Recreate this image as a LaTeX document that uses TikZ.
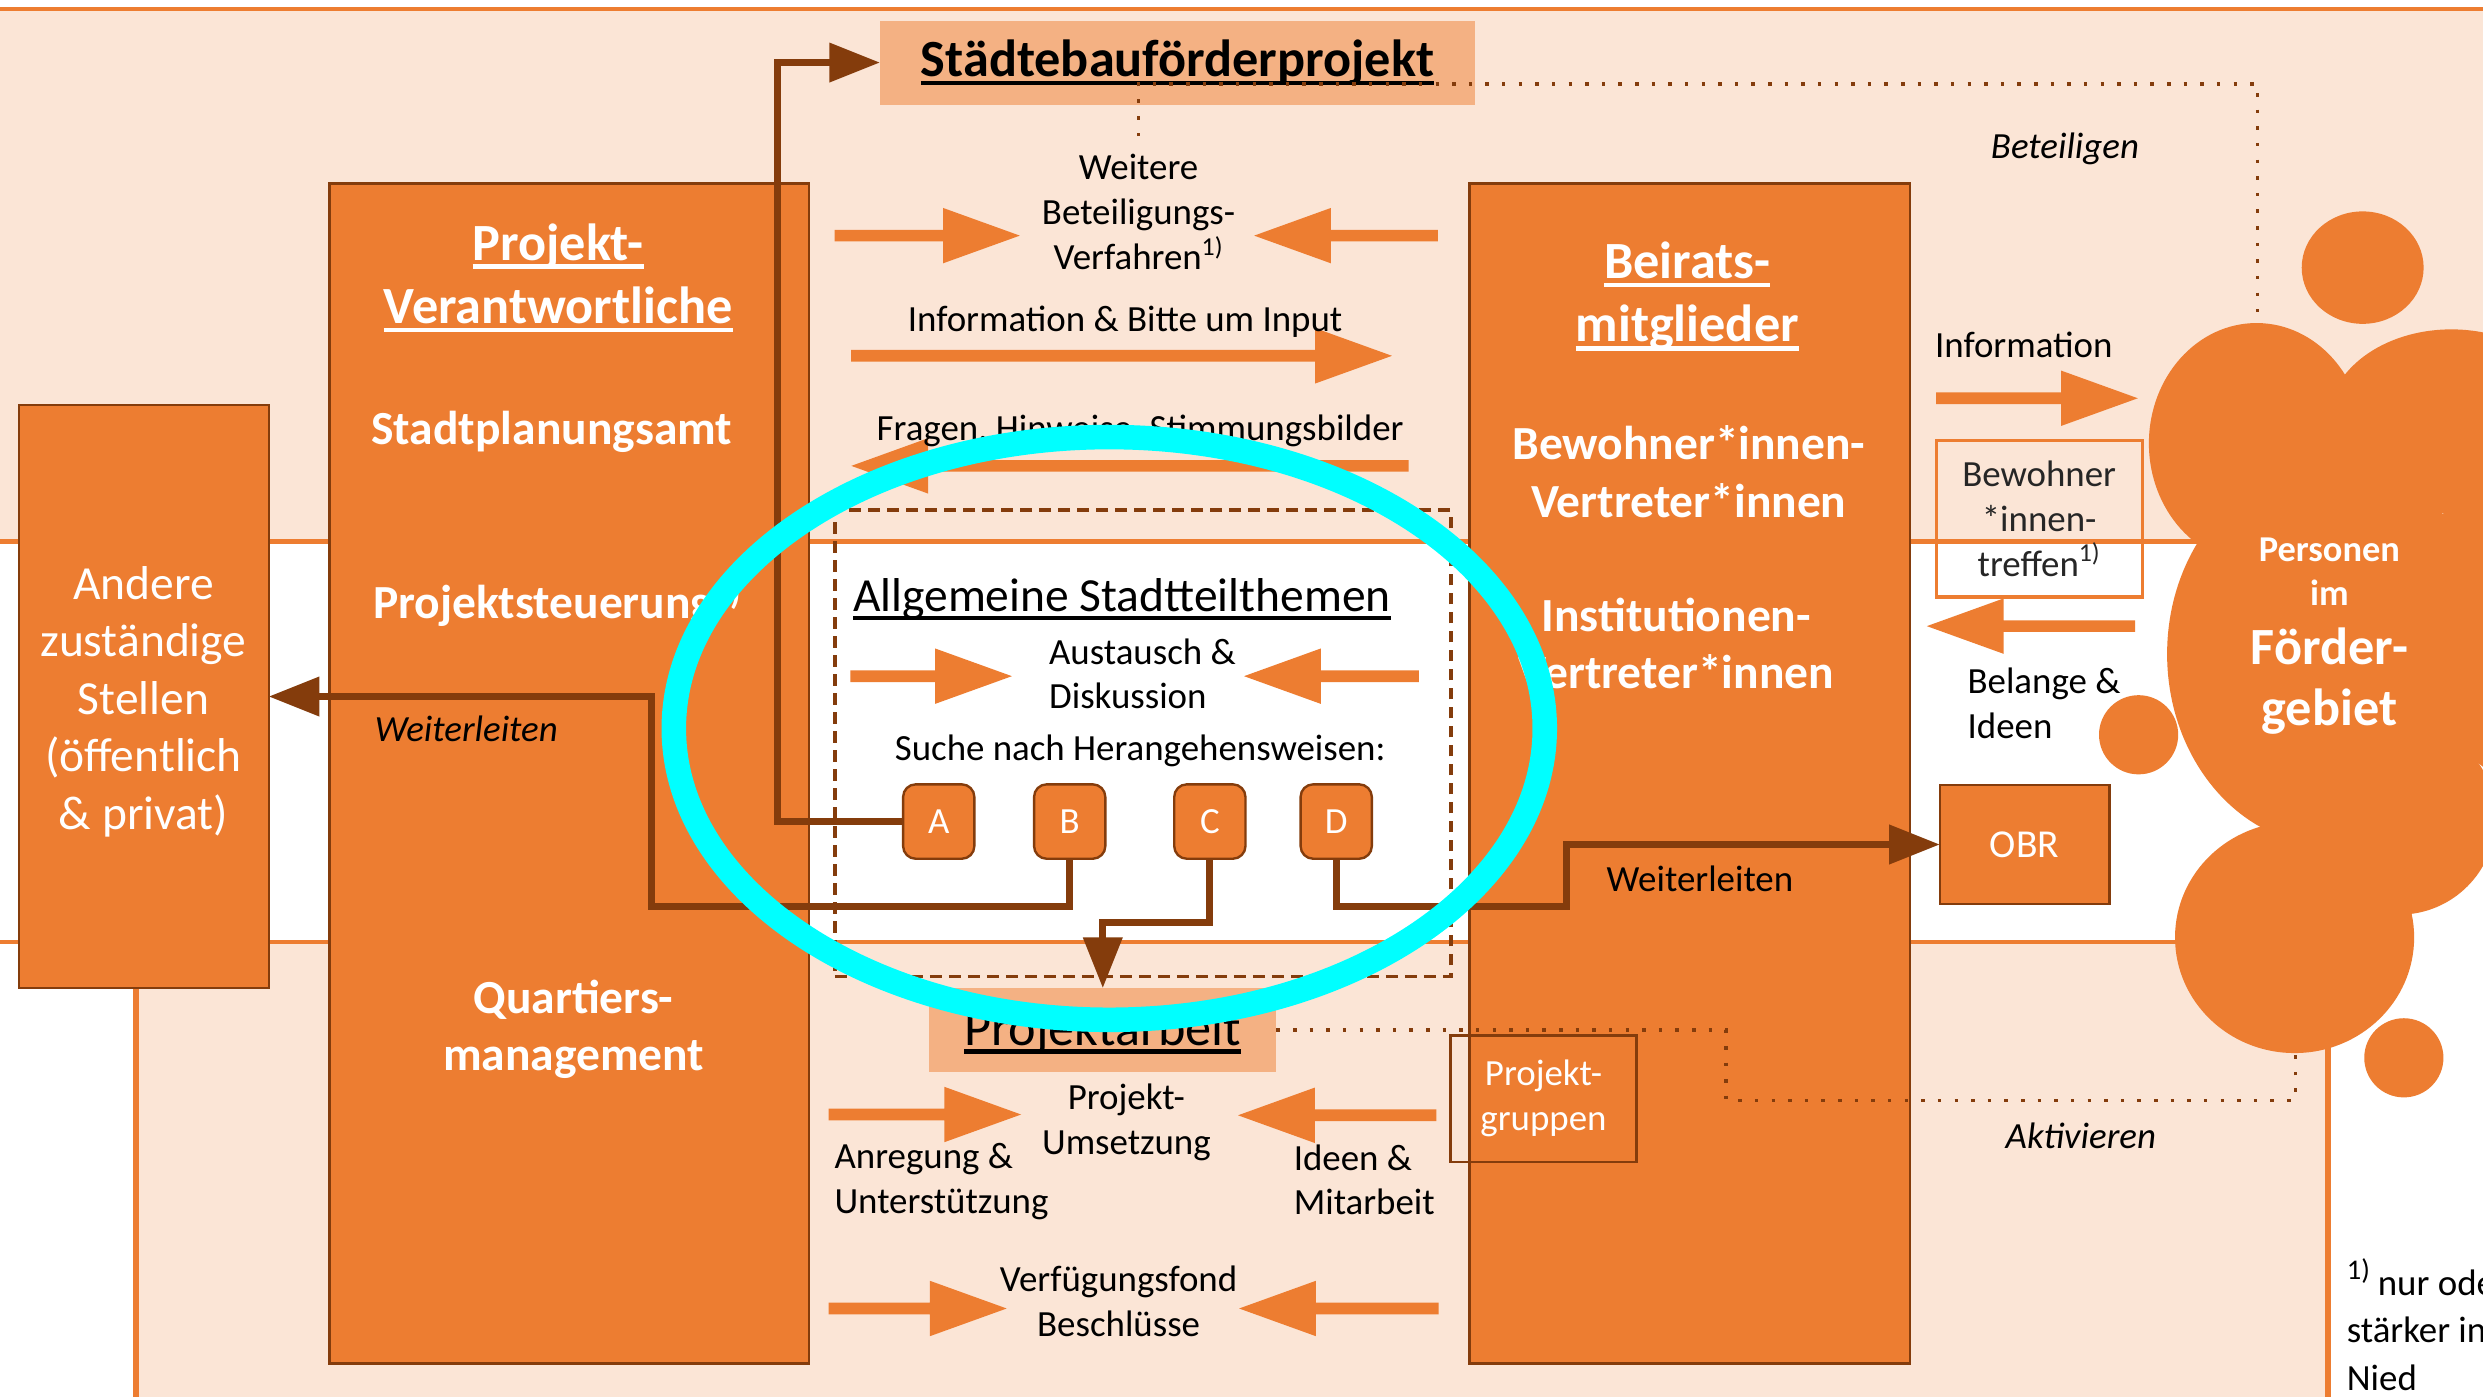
\documentclass[tikz,border=0pt]{standalone}
\usepackage{fontspec}
\setmainfont{Carlito}
\usetikzlibrary{arrows.meta}
\definecolor{peach}{HTML}{FBE5D6}
\definecolor{orng}{HTML}{ED7D31}
\definecolor{lorng}{HTML}{F4B183}
\definecolor{dbrown}{HTML}{843C0C}
\definecolor{cyanline}{RGB}{0,255,255}
\newcommand\fsbody{\fontsize{23.3pt}{28.3pt}\selectfont}
\newcommand\fsmid{\fontsize{30pt}{36.3pt}\selectfont}
\newcommand\fsbig{\fontsize{33pt}{40pt}\selectfont}
\newcommand\fssmb{\fontsize{23pt}{27.7pt}\selectfont}
\newcommand\myul[1]{\setbox0\hbox{#1}\rlap{\rule[-0.17em]{\wd0}{0.09em}}\box0}
\newcommand\blkR[3]{\fill[orng] (#1,#3-3.7) -- (#2-48.5,#3-3.7) -- (#2-48.5,#3-17.5) -- (#2,#3) -- (#2-48.5,#3+17.5) -- (#2-48.5,#3+3.7) -- (#1,#3+3.7) -- cycle;}
\newcommand\blkL[3]{\fill[orng] (#2,#3-3.7) -- (#1+48.5,#3-3.7) -- (#1+48.5,#3-17.5) -- (#1,#3) -- (#1+48.5,#3+17.5) -- (#1+48.5,#3+3.7) -- (#2,#3+3.7) -- cycle;}
\tikzset{
  txtbase/.style={inner sep=0pt, outer sep=0pt, align=center},
  body/.style={txtbase, font=\fsbody},
  bodyit/.style={txtbase, font=\fsbody\itshape},
  wmid/.style={txtbase, font=\fsmid, text=white},
  wbold/.style={txtbase, font=\fsmid\bfseries, text=white},
  wtitle/.style={txtbase, font=\fsbig\bfseries, text=white},
  bigbox/.style={draw=dbrown, line width=1.5pt, fill=orng, inner sep=0pt, outer sep=0pt},
  letterbox/.style={draw=dbrown, line width=1.5pt, fill=orng, rounded corners=8pt,
    minimum width=45pt, minimum height=47pt, inner sep=0pt, outer sep=0pt, text=white, font=\fsbody},
  conn/.style={draw=dbrown, line width=4.5pt, -{Triangle[length=32pt,width=24pt]}},
  dotconn/.style={draw=dbrown, line width=2.2pt, dash pattern=on 2.2pt off 8.3pt},
  dashbox/.style={draw=dbrown, line width=2.4pt, dash pattern=on 7.5pt off 4.5pt, inner sep=0pt, outer sep=0pt},
  bandline/.style={draw=orng, line width=2.8pt},
  edgeline/.style={draw=orng, line width=3.6pt},
  hlbox/.style={fill=lorng, inner sep=0pt, outer sep=0pt},
}
\begin{document}
\begin{tikzpicture}[x=1pt,y=-1pt]
\useasboundingbox (0,0) rectangle (1568,882);
\clip (0,0) rectangle (1568,882);
% ---------- background bands
\fill[white] (0,0) rectangle (1568,882);
\fill[peach] (0,5.6) rectangle (1568,342);
\fill[peach] (86,595) rectangle (1470,900);
\draw[bandline] (0,5.6) -- (1568,5.6);
\draw[bandline] (0,342) -- (1568,342);
\draw[bandline] (0,595) -- (1470,595);
\draw[edgeline] (86,595) -- (86,900);
\draw[edgeline] (1470,595) -- (1470,900);
% ---------- big boxes
\node[bigbox, anchor=north west, minimum width=157.7pt, minimum height=368.3pt] (andere) at (12,255.7) {};
\node[bigbox, anchor=north west, minimum width=303pt, minimum height=745pt] (pv) at (208,116) {};
\node[bigbox, anchor=north west, minimum width=278pt, minimum height=745pt] (br) at (928,116) {};
\node[hlbox, minimum width=375.8pt, minimum height=53pt, font=\fsbig\bfseries] (sbp) at (743.6,39.5) {\myul{Städtebauförderprojekt}};
\node[hlbox, minimum width=219.3pt, minimum height=53pt, font=\fsbig, text depth=4pt] (pa) at (696.4,650.5) {\myul{Projektarbeit}};
\node[dashbox, anchor=north west, minimum width=389.1pt, minimum height=294.3pt] (dbox) at (527.2,322.3) {};
% ---------- block arrows
\blkR{527}{644}{148.8}
\blkL{792}{908}{148.8}
\blkR{537.5}{879}{224.7}
\blkL{537.6}{889.5}{294.2}
\blkR{537}{639}{427}
\blkL{785.6}{896}{427}
\blkR{1222.6}{1350}{251.5}
\blkL{1216.8}{1348.3}{395.4}
\blkR{523.3}{644.8}{703.8}
\blkL{781.8}{907}{704.3}
\blkR{523.3}{635.7}{826.3}
\blkL{782.5}{908.4}{826.3}
% ---------- texts in the boxes
\node[wmid] (anderetxt) at (90.6,443) {Andere\\zuständige\\Stellen\\(öffentlich\\\& privat)};
\node[wtitle] (pvtitle) at (352.5,175.5) {\myul{Projekt-}\\\myul{Verantwortliche}};
\node[wbold] (spa) at (348.4,273) {Stadtplanungsamt};
\node[wbold, anchor=west] (pst) at (235.6,381) {Projektsteuerung\textsuperscript{1)}};
\node[wbold] (qm) at (362.2,650) {Quartiers-\\management};
\node[wtitle] (brtitle) at (1065.5,187) {\myul{Beirats-}\\\myul{mitglieder}};
\node[wbold] (bwv) at (1066.5,298) {Bewohner*innen-\\Vertreter*innen};
\node[wbold] (inv) at (1058.6,406.5) {Institutionen-\\Vertreter*innen};
% ---------- texts between the boxes
\node[body] (weitere) at (719,134) {Weitere\\Beteiligungs-\\Verfahren\textsuperscript{1)}};
\node[body] (infoinput) at (710.5,203) {Information \& Bitte um Input};
\node[body] (fragen) at (720,272) {Fragen, Hinweise, Stimmungsbilder};
\node[txtbase, font=\fsmid] (allg) at (708.5,378.5) {\myul{Allgemeine Stadtteilthemen}};
\node[body, anchor=west, align=left] (austausch) at (662.5,425.5) {Austausch \&\\Diskussion};
\node[body] (suche) at (720,474) {Suche nach Herangehensweisen:};
\node[bodyit] (weiterl1) at (294.5,460) {Weiterleiten};
\node[body] (weiterl2) at (1073.5,555) {Weiterleiten};
\node[body] (umsetzung) at (711.3,709) {Projekt-\\Umsetzung};
\node[body, anchor=west, align=left] (anregung) at (527,746) {Anregung \&\\Unterstützung};
\node[body, anchor=west, align=left] (ideen) at (817,745) {Ideen \&\\Mitarbeit};
\node[body] (vfond) at (706.4,822) {Verfügungsfond\\Beschlüsse};
\node[bodyit] (beteiligen) at (1304,94) {Beteiligen};
\node[bodyit] (aktivieren) at (1314,717) {Aktivieren};
\node[body] (information) at (1278,218) {Information};
\node[body, anchor=west, align=left] (belange) at (1242.5,444) {Belange \&\\Ideen};
% ---------- letter boxes and connectors
\node[letterbox] (A) at (592.8,518.8) {A};
\node[letterbox] (B) at (675.5,518.8) {B};
\node[letterbox] (C) at (764,518.8) {C};
\node[letterbox] (D) at (843.8,518.8) {D};
\node[bigbox, minimum width=107pt, minimum height=75.4pt, font=\fontsize{25pt}{30pt}\selectfont, text=white] (obr) at (1278.5,533.3) {OBR};
\draw[conn] (A.west) -| (490.9,39.5) -- (sbp.west);
\draw[conn] (B.south) |- (411.5,572.7) |- (andere.east);
\draw[conn] (C.south) |- (696.4,582.8) -- (pa.north);
\draw[conn] (D.south) |- (989.3,572.5) |- (obr.west);
% ---------- small framed boxes
\node[draw=orng, line width=2pt, minimum width=130pt, minimum height=99pt, inner sep=0pt, outer sep=0pt,
  font=\fsbody, align=center, text=black!85] (bwt) at (1287.7,327.5) {Bewohner\\*innen-\\treffen\textsuperscript{1)}};
\node[draw=dbrown, line width=1.5pt, minimum width=117.4pt, minimum height=79.6pt, inner sep=0pt, outer sep=0pt,
  font=\fsbody, align=center, text=white] (pg) at (974.7,693.8) {Projekt-\\gruppen};
% ---------- person in the Foerdergebiet
\fill[orng] (1492,169) ellipse [x radius=38.5, y radius=35.5];
\fill[orng] (1425,280) ellipse [x radius=68, y radius=76];
\fill[orng] (1548,266) ellipse [x radius=78, y radius=58];
\fill[orng] (1472,413) ellipse [x radius=103.5, y radius=121];
\fill[orng] (1640,391) circle [radius=117.8];
\fill[orng] (1515,516.6) circle [radius=61];
\fill[orng] (1449,592) ellipse [x radius=75.5, y radius=73];
\fill[orng] (1350.5,464) circle [radius=25];
\fill[orng] (1518,668) circle [radius=25];
\node[txtbase, font=\fssmb\bfseries, text=white] (personen) at (1471,361) {Personen\\im};
\node[wtitle, font=\fontsize{33pt}{38.2pt}\selectfont\bfseries] (foerder) at (1471,430) {Förder-\\gebiet};
% ---------- dotted connectors
\coordinate (btstart) at (719,86);
\coordinate (perstop) at (1425.7,197);
\coordinate (perbot) at (1449.5,664);
\draw[dotconn] (btstart) |- (1425.7,53) -- (perstop);
\draw[dotconn] (pa.east) -| (1090,694.8) -| (perbot);
% ---------- footnote
\node[body, anchor=base west] (fn1) at (1482,818) {\raisebox{0.42em}{\fontsize{18pt}{18pt}\selectfont 1)}\hspace{5pt}nur oder};
\node[body, anchor=base west] (fn2) at (1482,848) {stärker in};
\node[body, anchor=base west] (fn3) at (1482,877.8) {Nied};
% ---------- highlight ellipse
\draw[cyanline, line width=15.5pt] (700.5,460) ellipse [x radius=275, y radius=184];
\end{tikzpicture}
\end{document}
